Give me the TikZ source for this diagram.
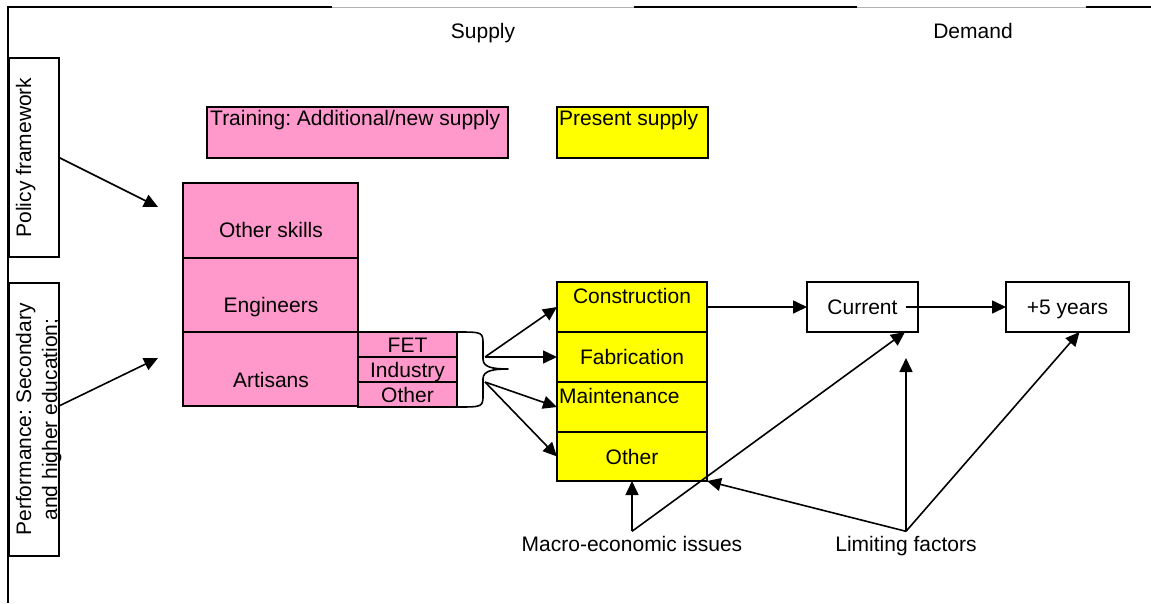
\documentclass[tikz,border=0pt]{standalone}
\usepackage{fontspec}
\setmainfont{Liberation Sans}
\frenchspacing
\usetikzlibrary{arrows.meta}
\definecolor{trainpink}{HTML}{FF99CC}
\definecolor{presentyellow}{HTML}{FFFF00}
\tikzset{
  framerule/.style={line width=2.2pt, draw=black},
  frameghost/.style={line width=0.8pt, draw=black!30},
  cell/.style={draw=black, line width=1.8pt, inner sep=0pt, outer sep=0pt, anchor=north west, text height=15pt, text depth=0pt},
  pinkbox/.style={cell, fill=trainpink},
  yellowbox/.style={cell, fill=presentyellow},
  whitebox/.style={cell, fill=white},
  word/.style={inner sep=0pt, text height=15pt, text depth=0pt},
  cue/.style={word, inner sep=5pt},
  link/.style={line width=1.6pt, -{Triangle[length=14pt, width=13pt]}},
  bracket/.style={line width=1.6pt, line join=round},
}

\begin{document}
\begin{tikzpicture}[x=1pt, y=-1pt, font=\fontsize{21}{25}\selectfont]
\useasboundingbox (0,0) rectangle (1151,603);
\draw[framerule] (8,603) -- (8,7) -- (332,7);
\draw[frameghost] (332,7) -- (634,7);
\draw[framerule] (634,7) -- (857,7);
\draw[frameghost] (857,7) -- (1086,7);
\draw[framerule] (1086,7) -- (1151,7);
\node[word] (supply) at (483,31) {Supply};
\node[word] (demand) at (973,31) {Demand};
\node[pinkbox, minimum width=301pt, minimum height=51pt] (training) at (207,107) {};
\node[word, anchor=west] (trainingtxt) at (210,118) {Training: Additional/new supply};
\node[yellowbox, minimum width=151pt, minimum height=51pt] (present) at (557,107) {};
\node[word, anchor=west] (presenttxt) at (559,118) {Present supply};
\node[whitebox, minimum width=50pt, minimum height=199pt] (policy) at (9,58) {};
\node[word, rotate=90] (policytxt) at (23.5,157.5) {Policy framework};
\node[whitebox, minimum width=50pt, minimum height=273pt] (perf) at (9,283) {};
\node[word, rotate=90] (perftxta) at (23.5,419.5) {Performance: Secondary};
\node[word, rotate=90] (perftxtb) at (49.5,419.5) {and higher education;};
\node[pinkbox, minimum width=175pt, minimum height=75pt] (otherskills) at (183,183) {};
\node[word] (otherskillstxt) at (271,230) {Other skills};
\node[pinkbox, minimum width=175pt, minimum height=74pt] (engineers) at (183,258) {};
\node[word] (engineerstxt) at (271,305) {Engineers};
\node[pinkbox, minimum width=175pt, minimum height=74pt] (artisans) at (183,332) {};
\node[word] (artisanstxt) at (271,380) {Artisans};
\node[pinkbox, minimum width=99pt, minimum height=25pt] (fet) at (358,332) {FET};
\node[pinkbox, minimum width=99pt, minimum height=25pt] (industry) at (358,357) {Industry};
\node[pinkbox, minimum width=99pt, minimum height=25pt] (otherroute) at (358,382) {Other};
\node[yellowbox, minimum width=150pt, minimum height=50pt] (construction) at (557,282) {};
\node[word] (constructiontxt) at (632,296) {Construction};
\node[yellowbox, minimum width=150pt, minimum height=50pt] (fabrication) at (557,332) {Fabrication};
\node[yellowbox, minimum width=150pt, minimum height=50pt] (maintenance) at (557,382) {};
\node[word, anchor=west] (maintenancetxt) at (559,396) {Maintenance};
\node[yellowbox, minimum width=150pt, minimum height=49pt] (otheruse) at (557,432) {Other};
\node[whitebox, minimum width=111pt, minimum height=50pt] (current) at (807,282) {Current};
\node[whitebox, minimum width=123pt, minimum height=50pt] (plusfive) at (1006,282) {+5 years};
\node[cue] (macro) at (632,544) {Macro-economic issues};
\node[cue] (limiting) at (906,544) {Limiting factors};
\draw[bracket] (457,332) .. controls (483,332) .. (483,345) -- (483,359) .. controls (483,367) and (492,369) .. (508,369) .. controls (492,369) and (483,371) .. (483,379) -- (483,394) .. controls (483,407) .. (457,407);
\coordinate (braceup) at (485,357);
\coordinate (bracelow) at (485,382);
\coordinate (policytip) at (158,207);
\coordinate (perftip) at (158,358);
\coordinate (limitingtip) at (906,358);
\draw[link] (policy.east) -- (policytip);
\draw[link] ([yshift=13.5pt]perf.east) -- (perftip);
\draw[link] (braceup) -- (construction.west);
\draw[link] (braceup) -- (fabrication.west);
\draw[link] (bracelow) -- (maintenance.west);
\draw[link] (bracelow) -- (otheruse.west);
\draw[link] (construction.east) -- (current.west);
\draw[link] ([xshift=-12pt]current.east) -- (plusfive.west);
\draw[link] (macro.north) -- (otheruse.south);
\draw[link] (macro.north) -- ([xshift=-13pt]current.south east);
\draw[link] (limiting.north) -- (otheruse.south east);
\draw[link] (limiting.north) -- (limitingtip);
\draw[link] (limiting.north) -- ([xshift=12pt]plusfive.south);
\end{tikzpicture}
\end{document}
